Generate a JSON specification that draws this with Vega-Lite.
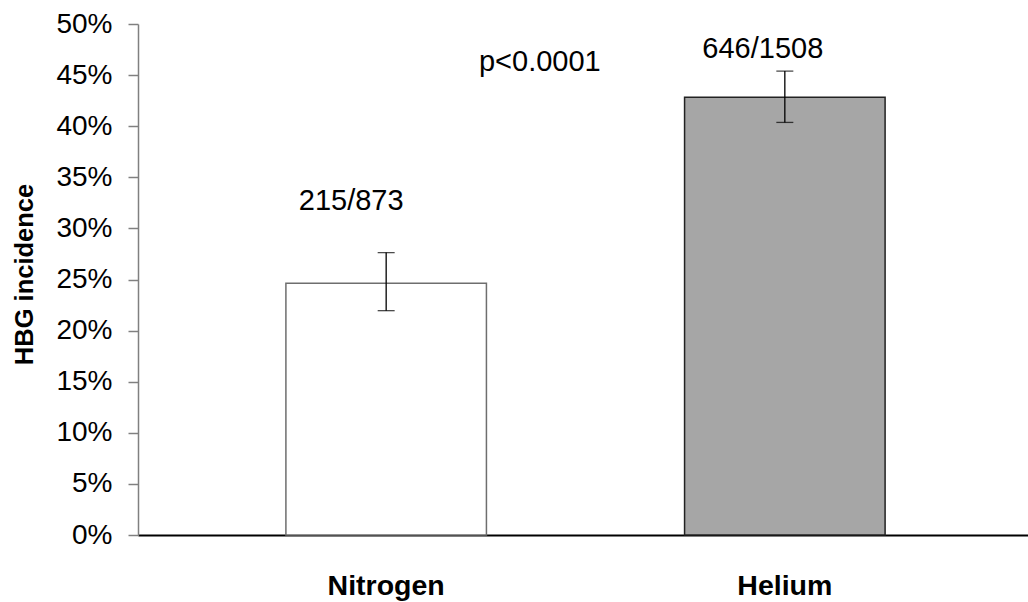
{
  "$schema": "https://vega.github.io/schema/vega-lite/v6.json",
  "autosize": "none",
  "width": 895,
  "height": 511,
  "padding": {"left": 138, "top": 24, "right": 0, "bottom": 67},
  "background": "white",
  "config": {
    "view": {"stroke": null},
    "font": "Liberation Sans",
    "text": {"font": "Liberation Sans", "fontSize": 29, "color": "black"}
  },
  "data": {
    "values": [
      {"group": "Nitrogen", "events": 215, "total": 873, "rate": 0.2463, "lo": 0.2195, "hi": 0.2763},
      {"group": "Helium", "events": 646, "total": 1508, "rate": 0.4284, "lo": 0.4037, "hi": 0.4539}
    ]
  },
  "encoding": {
    "x": {
      "field": "group",
      "type": "nominal",
      "sort": ["Nitrogen", "Helium"],
      "scale": {"paddingInner": 0.497, "paddingOuter": 0.371},
      "axis": {
        "title": null,
        "labelAngle": 0,
        "labelFont": "Liberation Sans",
        "labelFontSize": 28.5,
        "labelFontWeight": "bold",
        "labelColor": "black",
        "labelPadding": 36,
        "ticks": false,
        "domainColor": "black",
        "domainWidth": 2
      }
    }
  },
  "layer": [
    {
      "mark": {"type": "bar", "strokeWidth": 1.5},
      "encoding": {
        "y": {
          "field": "rate",
          "type": "quantitative",
          "scale": {"domain": [0, 0.5], "nice": false},
          "axis": {
            "title": "HBG incidence",
            "titleFont": "Liberation Sans",
            "titleFontSize": 25.5,
            "titleFontWeight": "bold",
            "titleColor": "black",
            "titleX": -101,
            "titleY": 250,
            "values": [0, 0.05, 0.1, 0.15, 0.2, 0.25, 0.3, 0.35, 0.4, 0.45, 0.5],
            "format": ".0%",
            "labelFont": "Liberation Sans",
            "labelFontSize": 28,
            "labelColor": "black",
            "labelPadding": 16,
            "tickSize": 10,
            "tickColor": "#808080",
            "tickWidth": 1.5,
            "domainColor": "#808080",
            "domainWidth": 1.5,
            "grid": false
          }
        },
        "fill": {
          "field": "group",
          "type": "nominal",
          "scale": {"domain": ["Nitrogen", "Helium"], "range": ["#ffffff", "#a6a6a6"]},
          "legend": null
        },
        "stroke": {
          "field": "group",
          "type": "nominal",
          "scale": {"domain": ["Nitrogen", "Helium"], "range": ["#6e6e6e", "#222222"]},
          "legend": null
        }
      }
    },
    {
      "mark": {"type": "rule", "color": "black", "strokeWidth": 1.3},
      "encoding": {
        "y": {"field": "lo", "type": "quantitative"},
        "y2": {"field": "hi"}
      }
    },
    {
      "mark": {"type": "tick", "color": "black", "size": 17, "thickness": 1.3},
      "encoding": {"y": {"field": "lo", "type": "quantitative"}}
    },
    {
      "mark": {"type": "tick", "color": "black", "size": 17, "thickness": 1.3},
      "encoding": {"y": {"field": "hi", "type": "quantitative"}}
    },
    {
      "transform": [{"filter": "datum.group === 'Nitrogen'"}],
      "mark": {"type": "text", "baseline": "middle", "dx": -35, "dy": -52},
      "encoding": {
        "y": {"field": "hi", "type": "quantitative"},
        "text": {"value": "215/873"}
      }
    },
    {
      "transform": [{"filter": "datum.group === 'Helium'"}],
      "mark": {"type": "text", "baseline": "middle", "dx": -22, "dy": -22},
      "encoding": {
        "y": {"field": "hi", "type": "quantitative"},
        "text": {"value": "646/1508"}
      }
    },
    {
      "transform": [{"filter": "datum.group === 'Helium'"}],
      "mark": {"type": "text", "baseline": "middle", "dx": -245},
      "encoding": {
        "y": {"datum": 0.463, "type": "quantitative"},
        "text": {"value": "p<0.0001"}
      }
    }
  ]
}
